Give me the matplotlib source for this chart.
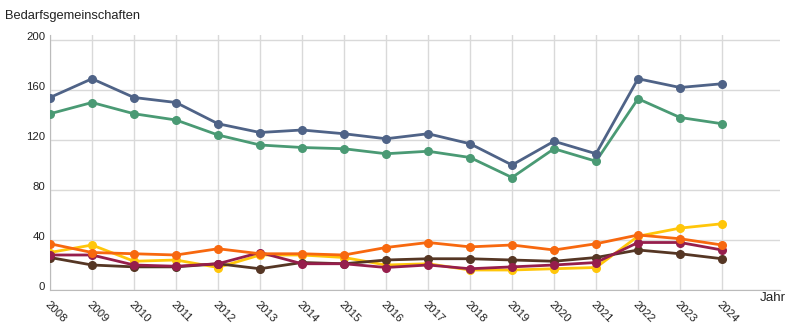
import numpy as np
import matplotlib.pyplot as plt

plt.rcParams['font.family'] = ['Liberation Sans', 'DejaVu Sans']

# Jahre
jahre = list(range(2008, 2025))

# Bedarfsgemeinschaften je Reihe
blau = [154, 169, 154, 150, 133, 126, 128, 125, 121, 125, 117, 100, 119, 109, 169, 162, 165]
gruen = [141, 150, 141, 136, 124, 116, 114, 113, 109, 111, 106, 90, 113, 103, 153, 138, 133]
orange = [37, 30, 29, 28, 33, 29, 29, 28, 34, 38, 34.5, 36, 32, 37, 44, 41, 36]
gelb = [30, 36, 23, 24, 18, 28, 28, 26, 20, 21, 16, 16, 17, 18, 43, 49.5, 53]
rot = [28, 28, 20, 19, 21, 30, 21, 21, 18, 20, 17, 18.5, 20, 22, 38, 38, 32]
braun = [26, 20, 18.5, 18.5, 21, 17, 22, 21, 24, 25, 25, 24, 23, 26, 32, 29, 25]

yticks = [0, 40, 80, 120, 160, 200]

reihen = [
    (gelb, "#ffc60a"),
    (braun, "#553624"),
    (rot, "#961e4c"),
    (orange, "#f7680f"),
    (gruen, "#4a9a74"),
    (blau, "#4f6387"),
]

fig = plt.figure(figsize=(7.95, 3.31), dpi=100)
ax = fig.add_axes([50/795, 41/331, 730/795, 255/331])

for werte, farbe in reihen:
    ax.plot(jahre, werte, color=farbe, linewidth=2, marker="o", markersize=5.5, zorder=3)

ax.set_xlim(2008, 2025.38)
ax.set_ylim(0, 204)
ax.set_xticks(jahre)
ax.set_xticklabels([str(j) for j in jahre], rotation=-45, ha="left", va="top",
                   rotation_mode="anchor", fontsize=8.2, color="#222222")
ax.set_yticks(yticks)
ax.set_yticklabels([str(t) for t in yticks], fontsize=8.2, color="#222222", va="baseline")
ax.tick_params(axis="x", length=0, pad=7)
ax.tick_params(axis="y", length=0, pad=3.5)

ax.grid(True, color="#d9d9d9", linewidth=1)
ax.set_axisbelow(True)
for s in ["top", "right"]:
    ax.spines[s].set_visible(False)
for s in ["left", "bottom"]:
    ax.spines[s].set_color("#bbbbbb")

fig.text(5/795, 1 - 16/331, "Bedarfsgemeinschaften", fontsize=9.3, color="#222222", va="center")
fig.text(760/795, 1 - 298/331, "Jahr", fontsize=9.6, color="#222222", va="center")

fig.savefig("out.png", dpi=100)
